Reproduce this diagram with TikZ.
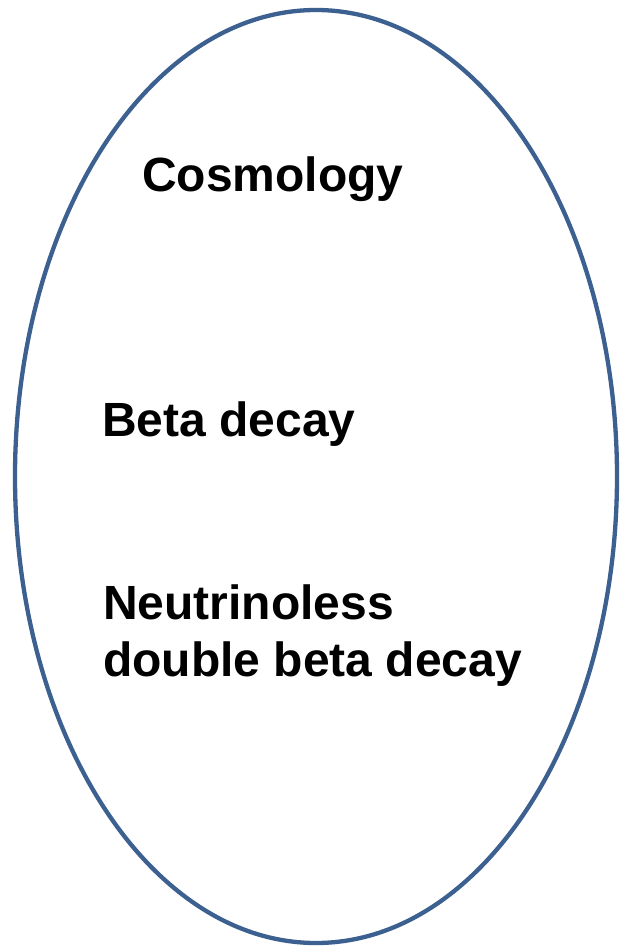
\documentclass[tikz,border=0pt]{standalone}
\usepackage{fontspec}
\setmainfont{Liberation Sans}
\usetikzlibrary{positioning}
\definecolor{rimblue}{RGB}{60,96,144}

\begin{document}
\begin{tikzpicture}[
    x=1pt,y=-1pt,
    topic/.style={anchor=base west,inner sep=0pt,font=\fontsize{48}{57}\selectfont\bfseries,align=left},
    rim/.style={draw=rimblue,line width=4.3pt}
]
    \useasboundingbox (0,0) rectangle (620,946);
    % Outer ellipse
    \draw[rim] (316,476.5) ellipse [x radius=301, y radius=466.5];

    % Topics
    \node[topic] (cosmo) at (142,191) {Cosmology};
    \node[topic] (beta) at (102,436) {Beta decay};
    \node[topic,anchor=north west] (nldbd) at (103,585) {Neutrinoless\\double beta decay};
\end{tikzpicture}
\end{document}
